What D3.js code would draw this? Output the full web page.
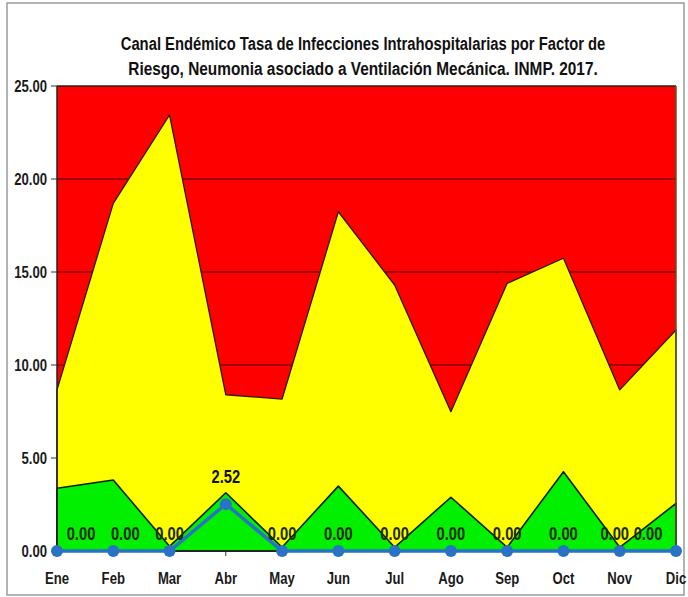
<!DOCTYPE html>
<html>
<head>
<meta charset="utf-8">
<script src="https://cdn.jsdelivr.net/npm/d3@7/dist/d3.min.js"></script>
<style>
  body { margin: 0; background: #fff; }
  text { font-family: "Liberation Sans", Arial, sans-serif; font-weight: bold; }
</style>
</head>
<body>
<svg id="chart" width="688" height="597"></svg>
<script>
// Months of the year
const months = ["Ene", "Feb", "Mar", "Abr", "May", "Jun", "Jul", "Ago", "Sep", "Oct", "Nov", "Dic"];
// Upper limit of the epidemic (yellow) zone
const alarmZone = [8.66, 18.69, 23.44, 8.40, 8.17, 18.24, 14.30, 7.49, 14.39, 15.74, 8.66, 11.88];
// Upper limit of the security (green) zone
const securityZone = [3.37, 3.82, 0.25, 3.13, 0.20, 3.49, 0.20, 2.89, 0.20, 4.26, 0.20, 2.56];
// Observed 2017 rate
const rate2017 = [0.00, 0.00, 0.00, 2.52, 0.00, 0.00, 0.00, 0.00, 0.00, 0.00, 0.00, 0.00];
const yTicks = [0, 5, 10, 15, 20, 25];
const titleLines = [
  "Canal Endémico Tasa de Infecciones Intrahospitalarias por Factor de",
  "Riesgo, Neumonia asociado a Ventilación Mecánica. INMP. 2017."
];

const svg = d3.select("#chart");
const plot = { left: 57, right: 676, top: 86, bottom: 551 };
const NARROW = 0.82;

const x = d3.scalePoint().domain(months).range([plot.left, plot.right]);
const y = d3.scaleLinear().domain([0, 25]).range([plot.bottom, plot.top]);

// outer chart frame
svg.append("rect")
  .attr("x", 7).attr("y", 3).attr("width", 677).attr("height", 592)
  .attr("fill", "#fff").attr("stroke", "#9a9a9a").attr("stroke-width", 1.5);

// condensed bold text helper
function narrowText(g, px, py, str, size, anchor, fill) {
  return g.append("text")
    .attr("transform", `translate(${px},${py}) scale(${NARROW},1)`)
    .attr("text-anchor", anchor || "middle")
    .attr("font-size", size)
    .attr("fill", fill || "#111")
    .text(str);
}

// title: each line squeezed horizontally to its target width
const titleWidths = [485, 470];
titleLines.forEach((t, i) => {
  const el = svg.append("text")
    .attr("text-anchor", "middle")
    .attr("font-size", 19)
    .attr("fill", "#111")
    .text(t);
  const w = el.node().getComputedTextLength();
  el.attr("transform", `translate(363,${50 + i * 25}) scale(${titleWidths[i] / w},1)`);
});

// alarm (red) region = plot background
svg.append("rect")
  .attr("x", plot.left).attr("y", plot.top)
  .attr("width", plot.right - plot.left).attr("height", plot.bottom - plot.top)
  .attr("fill", "#ff0000");

// horizontal gridlines
svg.append("g").selectAll("line")
  .data(yTicks.filter(d => d > 0 && d < 25))
  .join("line")
  .attr("x1", plot.left).attr("x2", plot.right)
  .attr("y1", d => y(d)).attr("y2", d => y(d))
  .attr("stroke", "#3a0000").attr("stroke-width", 1);

// epidemic zone (yellow)
const area = vals => d3.area()
  .x((d, i) => x(months[i]))
  .y0(y(0))
  .y1(d => y(d))(vals);

svg.append("path")
  .attr("d", area(alarmZone))
  .attr("fill", "#ffff00")
  .attr("stroke", "#2a1a00").attr("stroke-width", 1.3).attr("stroke-linejoin", "round");

// security zone (green)
svg.append("path")
  .attr("d", area(securityZone))
  .attr("fill", "#00f000")
  .attr("stroke", "#102000").attr("stroke-width", 1.6).attr("stroke-linejoin", "round");

// plot frame
svg.append("line").attr("x1", plot.left).attr("x2", plot.right)
  .attr("y1", plot.top).attr("y2", plot.top).attr("stroke", "#222").attr("stroke-width", 1.5);
svg.append("line").attr("x1", plot.right).attr("x2", plot.right)
  .attr("y1", plot.top).attr("y2", plot.bottom).attr("stroke", "#5a5a20").attr("stroke-width", 1.5);

// y axis
const yAxis = svg.append("g");
yAxis.append("line").attr("x1", plot.left).attr("x2", plot.left)
  .attr("y1", plot.top).attr("y2", plot.bottom).attr("stroke", "#222").attr("stroke-width", 1.5);
yTicks.forEach(t => {
  yAxis.append("line").attr("x1", plot.left - 6).attr("x2", plot.left)
    .attr("y1", y(t)).attr("y2", y(t)).attr("stroke", "#333");
  narrowText(yAxis, 47, y(t) + 5.5, d3.format(".2f")(t), 16, "end", "#1a1a1a");
});

// x axis
const xAxis = svg.append("g");
xAxis.append("line").attr("x1", plot.left).attr("x2", plot.right)
  .attr("y1", plot.bottom).attr("y2", plot.bottom).attr("stroke", "#222").attr("stroke-width", 1.5);
months.forEach(m => {
  xAxis.append("line").attr("x1", x(m)).attr("x2", x(m))
    .attr("y1", plot.bottom).attr("y2", plot.bottom + 5).attr("stroke", "#333");
  narrowText(xAxis, x(m), 584, m, 16, "middle", "#1a1a1a");
});

// observed rate line
const blue = "#2a72c4";
svg.append("path")
  .attr("d", d3.line().x((d, i) => x(months[i])).y(d => y(d))(rate2017))
  .attr("fill", "none").attr("stroke", blue).attr("stroke-width", 3.5);
svg.append("g").selectAll("circle")
  .data(rate2017)
  .join("circle")
  .attr("cx", (d, i) => x(months[i]))
  .attr("cy", d => y(d))
  .attr("r", 6)
  .attr("fill", blue);

// value labels
const labelNudge = { Ene: 24, Feb: 12, Nov: -5, Dic: -28 };
const labels = svg.append("g");
rate2017.forEach((v, i) => {
  const m = months[i];
  const lx = x(m) + (labelNudge[m] || 0);
  const ly = y(v) - (v > 0 ? 21 : 11);
  narrowText(labels, lx, ly, d3.format(".2f")(v), 18, "middle", v > 0 ? "#111" : "#1a2a05");
});
</script>
</body>
</html>
